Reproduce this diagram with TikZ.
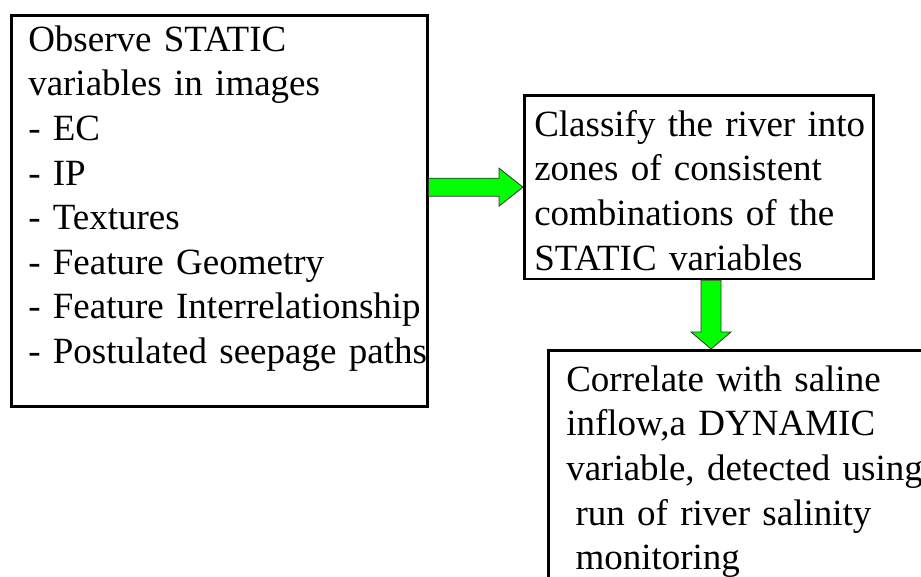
\documentclass[tikz,border=0pt]{standalone}
\usepackage{fontspec}
\setmainfont{Liberation Serif}
\usepackage{xcolor}
\usepackage{tikz}
\usetikzlibrary{calc}
\definecolor{flowgreen}{RGB}{0,255,0}

\begin{document}
\begin{tikzpicture}[x=1pt,y=-1pt,
    box/.style={draw,line width=2.5pt,anchor=north west,inner ysep=0pt,align=left,
      font=\fontsize{37}{44.6}\selectfont},
    flow/.style={fill=flowgreen,draw=black!80,line width=0.8pt,line join=miter}]
        \useasboundingbox (0,0) rectangle (921,576);
        \clip (0,0) rectangle (921,576);
        \node[box,inner xsep=17pt,text width=382pt] (obs) at (10,14)
          {\rule{0pt}{36pt}Observe STATIC\\variables in images\\- EC\\- IP\\- Textures\\
           - Feature Geometry\\\mbox{- Feature Interrelationship}\\
           \mbox{- Postulated seepage paths}\rule[-42.8pt]{0pt}{42.8pt}};
        \node[box,inner xsep=10pt,text width=329pt] (cls) at (523,94)
          {\rule{0pt}{41pt}\mbox{Classify the river into}\\zones of consistent\\
           combinations of the\\STATIC variables\rule[-9pt]{0pt}{9pt}};
        \node[box,inner xsep=18pt,text width=380pt] (cor) at (547,349)
          {\rule{0pt}{41pt}Correlate with saline\\inflow,a DYNAMIC\\
           \mbox{variable, detected using}\\\hspace*{0.25em}run of river salinity\\
           \hspace*{0.25em}monitoring\rule[-40pt]{0pt}{40pt}};
        % block arrows
        \draw[flow] ($(obs.east |- cls.west)+(0,-9)$) -- ($(cls.west)+(-24,-9)$)
          -- ($(cls.west)+(-24,-19)$) -- (cls.west) -- ($(cls.west)+(-24,19)$)
          -- ($(cls.west)+(-24,9)$) -- ($(obs.east |- cls.west)+(0,9)$) -- cycle;
        \coordinate (tip) at ($(cor.north west)+(164,0)$);
        \draw[flow] ($(cls.south -| tip)+(-10,0)$) -- ($(tip)+(-10,-17)$)
          -- ($(tip)+(-20,-17)$) -- (tip) -- ($(tip)+(20,-17)$)
          -- ($(tip)+(10,-17)$) -- ($(cls.south -| tip)+(10,0)$) -- cycle;
      \end{tikzpicture}
\end{document}
